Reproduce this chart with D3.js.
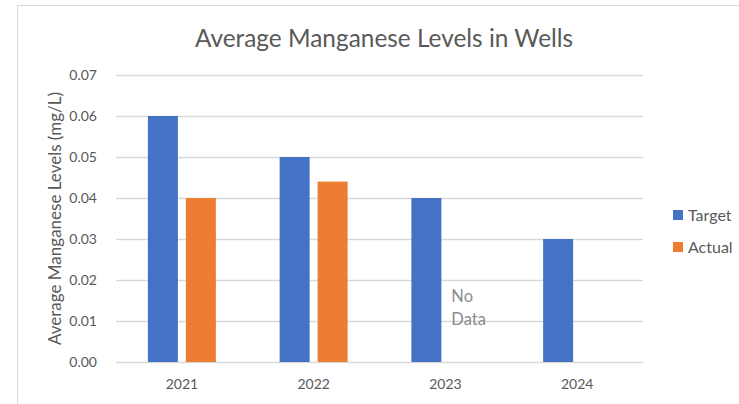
<!DOCTYPE html>
<html>
<head>
<meta charset="utf-8">
<script src="https://cdn.jsdelivr.net/npm/d3@7"></script>
<style>
  html, body { margin: 0; padding: 0; background: #fff; }
  svg { display: block; font-family: Lato, "Open Sans", sans-serif; }
</style>
</head>
<body>
<svg id="chart" width="739" height="404"></svg>
<script>
// Chart data
const years = ["2021", "2022", "2023", "2024"];
const seriesNames = ["Target", "Actual"];
const targetValues = [0.06, 0.05, 0.04, 0.03];
const actualValues = [0.04, 0.044, null, null];
const yTicks = [0, 0.01, 0.02, 0.03, 0.04, 0.05, 0.06, 0.07];
const colors = ["#4472C4", "#ED7D31"];

const rows = years.map((y, i) => ({ year: y, Target: targetValues[i], Actual: actualValues[i] }));

const svg = d3.select("#chart");
const plot = { left: 116, right: 643, top: 75, bottom: 362 };

// outer chart frame (right and bottom run past the viewport)
svg.append("rect")
  .attr("x", 17.5).attr("y", 5.5)
  .attr("width", 760).attr("height", 420)
  .attr("fill", "none").attr("stroke", "#d9d9d9").attr("stroke-width", 1);

const y = d3.scaleLinear().domain([0, 0.07]).range([plot.bottom, plot.top]);
const x0 = d3.scaleBand().domain(years).range([plot.left, plot.right])
  .paddingInner(0.484).paddingOuter(0.242);
const x1 = d3.scaleBand().domain(seriesNames).range([0, x0.bandwidth()])
  .paddingInner(0.21).paddingOuter(0);

// gridlines
svg.append("g")
  .attr("transform", `translate(${plot.left},0)`)
  .call(d3.axisLeft(y).tickValues(yTicks).tickSize(-(plot.right - plot.left)).tickFormat(""))
  .call(g => g.select(".domain").remove())
  .call(g => g.selectAll("line").attr("stroke", "#d9d9d9").attr("stroke-width", 1.3));

// y tick labels
svg.append("g")
  .attr("transform", `translate(${plot.left - 16},0)`)
  .call(d3.axisLeft(y).tickValues(yTicks).tickSize(0).tickFormat(d3.format(".2f")))
  .call(g => g.select(".domain").remove())
  .call(g => g.selectAll("text")
    .attr("fill", "#595959").attr("font-size", "14px")
    .attr("font-family", "Lato, sans-serif"));

// x labels
svg.append("g")
  .attr("transform", `translate(0,${plot.bottom + 14})`)
  .call(d3.axisBottom(x0).tickSize(0))
  .call(g => g.select(".domain").remove())
  .call(g => g.selectAll("text")
    .attr("fill", "#595959").attr("font-size", "14px")
    .attr("font-family", "Lato, sans-serif"));

// bars
const groups = svg.append("g").selectAll("g")
  .data(rows).join("g")
  .attr("transform", d => `translate(${x0(d.year)},0)`);

groups.selectAll("rect")
  .data(d => seriesNames.map((s, i) => ({ key: s, value: d[s], color: colors[i] }))
    .filter(e => e.value != null))
  .join("rect")
  .attr("x", d => x1(d.key))
  .attr("width", x1.bandwidth())
  .attr("y", d => y(d.value))
  .attr("height", d => y(0) - y(d.value))
  .attr("fill", d => d.color);

// "No Data" annotation beside the 2023 target bar
const noDataX = x0("2023") + x1("Actual") + 2;
const noData = svg.append("text")
  .attr("y", 302)
  .attr("fill", "#8c8c8c")
  .attr("font-size", "16.5px");
noData.append("tspan").attr("x", noDataX).text("No");
noData.append("tspan").attr("x", noDataX).attr("dy", 23).text("Data");

// title
svg.append("text")
  .attr("x", 384).attr("y", 47)
  .attr("text-anchor", "middle")
  .attr("fill", "#595959")
  .attr("font-size", "24.4px")
  .text("Average Manganese Levels in Wells");

// y axis title
svg.append("text")
  .attr("transform", `translate(61,${(plot.top + plot.bottom) / 2}) rotate(-90)`)
  .attr("text-anchor", "middle")
  .attr("fill", "#595959")
  .attr("font-size", "17px")
  .text("Average Manganese Levels (mg/L)");

// legend
const legend = svg.append("g").selectAll("g")
  .data(seriesNames).join("g")
  .attr("transform", (d, i) => `translate(673,${210 + i * 32})`);
legend.append("rect").attr("width", 10).attr("height", 10)
  .attr("fill", (d, i) => colors[i]);
legend.append("text").attr("x", 15).attr("y", 11)
  .attr("fill", "#595959").attr("font-size", "16px")
  .text(d => d);
</script>
</body>
</html>
